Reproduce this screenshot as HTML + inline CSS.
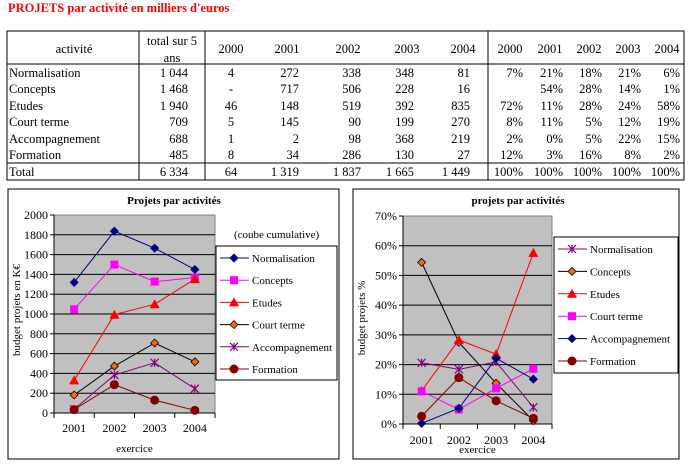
<!DOCTYPE html>
<html><head><meta charset="utf-8"><style>
body{margin:0;background:#fff;width:688px;height:468px;overflow:hidden}
svg{display:block;font-family:"Liberation Serif",serif}
</style></head><body>
<svg id="s" width="688" height="468" xmlns="http://www.w3.org/2000/svg">
<text x="8" y="12" font-size="12.5" font-weight="bold" fill="#ff0000">PROJETS par activité en milliers d'euros</text>
<g id="tbl"></g>
<g id="c1"></g>
<g id="c2"></g>
</svg>
<script>
const NS="http://www.w3.org/2000/svg";
const rowLabels=["Normalisation","Concepts","Etudes","Court terme","Accompagnement","Formation","Total"];
const totals=["1 044","1 468","1 940","709","688","485","6 334"];
const yearVals=[["4","272","338","348","81"],["-","717","506","228","16"],["46","148","519","392","835"],["5","145","90","199","270"],["1","2","98","368","219"],["8","34","286","130","27"],["64","1 319","1 837","1 665","1 449"]];
const pctVals=[["7%","21%","18%","21%","6%"],["","54%","28%","14%","1%"],["72%","11%","28%","24%","58%"],["8%","11%","5%","12%","19%"],["2%","0%","5%","22%","15%"],["12%","3%","16%","8%","2%"],["100%","100%","100%","100%","100%"]];
const years=["2000","2001","2002","2003","2004"];
const categories=["2001","2002","2003","2004"];
const c1Names=["Normalisation","Concepts","Etudes","Court terme","Accompagnement","Formation"];
const c1Norm=[1319,1837,1665,1449];
const c1Conc=[1047,1499,1327,1368];
const c1Etud=[330,993,1099,1352];
const c1Court=[182,474,707,517];
const c1Acc=[37,384,507,246];
const c1Form=[34,286,130,27];
const c1Ticks=[0,200,400,600,800,1000,1200,1400,1600,1800,2000];
const c2Norm=[20.6,18.4,20.9,5.6];
const c2Conc=[54.4,27.5,13.7,1.1];
const c2Etud=[11.2,28.3,23.5,57.6];
const c2Court=[11,4.9,12,18.6];
const c2Acc=[0.2,5.3,22.1,15.1];
const c2Form=[2.6,15.6,7.8,1.9];
const c2Ticks=[0,10,20,30,40,50,60,70];

function el(p,t,a,txt){const e=document.createElementNS(NS,t);for(const k in a)e.setAttribute(k,a[k]);if(txt!==undefined)e.textContent=txt;p.appendChild(e);return e;}

// table
const T=document.getElementById('tbl');
el(T,'rect',{x:7,y:31,width:677,height:149,fill:'none',stroke:'#000'});
[139,205,488].forEach(x=>el(T,'line',{x1:x,y1:31,x2:x,y2:180,stroke:'#000'}));
[64,163].forEach(y=>el(T,'line',{x1:7,y1:y,x2:684,y2:y,stroke:'#000'}));
const fs=12.5;
let h=el(T,'text',{x:74,y:53,'font-size':fs,'text-anchor':'middle'},'activité');

el(T,'text',{x:172,y:45,'font-size':fs,'text-anchor':'middle'},'total sur 5');
el(T,'text',{x:172,y:62,'font-size':fs,'text-anchor':'middle'},'ans');
const yc=[231,287,348,407,463], yr=[237,299,361,414,470], pc=[510,550,589,628,667], pr=[523,563,602,641,680];
years.forEach((y,i)=>{el(T,'text',{x:yc[i],y:53,'font-size':fs,'text-anchor':'middle'},y);el(T,'text',{x:pc[i],y:53,'font-size':fs,'text-anchor':'middle'},y);});
rowLabels.forEach((r,j)=>{
  const by=[77,93,110,126,143,159,176][j];
  const g=el(T,'g',{});
  
  
  el(g,'text',{x:9,y:by,'font-size':fs},r);
  el(g,'text',{x:188,y:by,'font-size':fs,'text-anchor':'end'},totals[j]);
  yearVals[j].forEach((v,i)=>{ if(i===0) el(g,'text',{x:231,y:by,'font-size':fs,'text-anchor':'middle'},v); else el(g,'text',{x:yr[i],y:by,'font-size':fs,'text-anchor':'end'},v);});
  pctVals[j].forEach((v,i)=>el(g,'text',{x:pr[i],y:by,'font-size':fs,'text-anchor':'end'},v));
});

function marker(g,type,x,y,fill,stroke){
  if(type==='diamond') el(g,'path',{d:`M${x},${y-4}L${x+4},${y}L${x},${y+4}L${x-4},${y}Z`,fill:fill,stroke:stroke,'stroke-width':0.8});
  else if(type==='square') el(g,'rect',{x:x-4,y:y-4,width:8,height:8,fill:fill});
  else if(type==='tri') el(g,'path',{d:`M${x},${y-5}L${x+5},${y+4}L${x-5},${y+4}Z`,fill:fill});
  else if(type==='star'){el(g,'path',{d:`M${x-4},${y-4}L${x+4},${y+4}M${x+4},${y-4}L${x-4},${y+4}M${x},${y-4}L${x},${y+4}`,stroke:fill,'stroke-width':1.2});}
  else if(type==='circle') el(g,'circle',{cx:x,cy:y,r:4.5,fill:fill});
}

function chart(G,o){
  el(G,'rect',{x:o.bx,y:189,width:o.bw,height:270,fill:'#fff',stroke:'#000'});
  const t=el(G,'text',{x:o.tx,y:204,'font-size':11,'font-weight':'bold','text-anchor':'middle'},o.title);
  
  el(G,'rect',{x:o.px,y:o.py,width:o.pw,height:o.ph,fill:'#c0c0c0',stroke:'#808080'});
  const Y=v=>o.py+o.ph-(v/o.max)*o.ph;
  const X=i=>o.px+o.pw/8+i*o.pw/4;
  o.ticks.forEach(v=>{
    const y=Y(v);
    if(v>0&&v<o.max) el(G,'line',{x1:o.px,y1:y,x2:o.px+o.pw,y2:y,stroke:'#000'});
    el(G,'line',{x1:o.px-4,y1:y,x2:o.px,y2:y,stroke:'#000'});
    const lb=el(G,'text',{x:o.px-6,y:y+4,'font-size':12,'text-anchor':'end'},o.fmt(v));
    
  });
  el(G,'line',{x1:o.px,y1:o.py+o.ph,x2:o.px+o.pw,y2:o.py+o.ph,stroke:'#000'});
  el(G,'line',{x1:o.px,y1:o.py,x2:o.px,y2:o.py+o.ph,stroke:'#000'});
  for(let i=0;i<=4;i++){const x=o.px+i*o.pw/4;el(G,'line',{x1:x,y1:o.py+o.ph,x2:x,y2:o.py+o.ph+5,stroke:'#000'});}
  categories.forEach((c,i)=>{const l=el(G,'text',{x:X(i),y:o.xly,'font-size':12,'text-anchor':'middle'},c);
    });
  const xt=el(G,'text',{x:o.px+o.pw/2,y:o.xty,'font-size':11,'text-anchor':'middle'},'exercice');
  
  const yt=el(G,'text',{x:0,y:0,'font-size':11,'text-anchor':'middle',transform:`translate(${o.ytx},${o.yty}) rotate(-90)`},o.ytitle);
  
  o.series.forEach(s=>{
    const g=el(G,'g',{});
    
    
    el(g,'polyline',{points:s.data.map((v,i)=>X(i)+','+Y(v)).join(' '),fill:'none',stroke:s.line,'stroke-width':1});
    s.data.forEach((v,i)=>marker(g,s.m,X(i),Y(v),s.fill,s.line));
  });
  const L=el(G,'g',{});
  
  el(L,'rect',{x:o.lx,y:o.ly,width:o.lw,height:o.lh,fill:'#fff',stroke:'#000'});
  o.series.forEach((s,i)=>{
    const y=o.ly+12+i*o.lstep;
    const e=el(L,'g',{});
    
    el(e,'line',{x1:o.lx+4,y1:y,x2:o.lx+33,y2:y,stroke:s.line});
    marker(e,s.m,o.lx+18,y,s.fill,s.line);
    el(e,'text',{x:o.lx+36,y:y+4,'font-size':11},s.name);
  });
}
const NAV='#000080',MAG='#ff00ff',RED='#ff0000',ORG='#ff6600',PUR='#800080',DRD='#800000';
chart(document.getElementById('c1'),{bx:8,bw:331,tx:174,title:'Projets par activités',px:54,py:215,pw:161,ph:198,max:2000,ticks:c1Ticks,fmt:v=>String(v),
  xly:432,xty:452,ytx:20,yty:310,ytitle:'budget projets en K€',lx:216,ly:246,lw:121,lh:134,lstep:22.2,
  series:[{name:c1Names[0],data:c1Norm,line:NAV,fill:NAV,m:'diamond'},{name:c1Names[1],data:c1Conc,line:MAG,fill:MAG,m:'square'},
  {name:c1Names[2],data:c1Etud,line:RED,fill:RED,m:'tri'},{name:c1Names[3],data:c1Court,line:'#000',fill:ORG,m:'diamond'},
  {name:c1Names[4],data:c1Acc,line:PUR,fill:PUR,m:'star'},{name:c1Names[5],data:c1Form,line:DRD,fill:DRD,m:'circle'}]});
el(document.getElementById('c1'),'text',{x:234,y:238,'font-size':11},'(coube cumulative)');
chart(document.getElementById('c2'),{bx:353,bw:326,tx:518,title:'projets par activités',px:403,py:216,pw:149,ph:208,max:70,ticks:c2Ticks,fmt:v=>v+'%',
  xly:444,xty:453,ytx:365,yty:318,ytitle:'budget projets %',lx:554,ly:237,lw:124,lh:136,lstep:22.4,
  series:[{name:'Normalisation',data:c2Norm,line:PUR,fill:PUR,m:'star'},{name:'Concepts',data:c2Conc,line:'#000',fill:ORG,m:'diamond'},
  {name:'Etudes',data:c2Etud,line:RED,fill:RED,m:'tri'},{name:'Court terme',data:c2Court,line:MAG,fill:MAG,m:'square'},
  {name:'Accompagnement',data:c2Acc,line:NAV,fill:NAV,m:'diamond'},{name:'Formation',data:c2Form,line:DRD,fill:DRD,m:'circle'}]});
</script>
</body></html>
